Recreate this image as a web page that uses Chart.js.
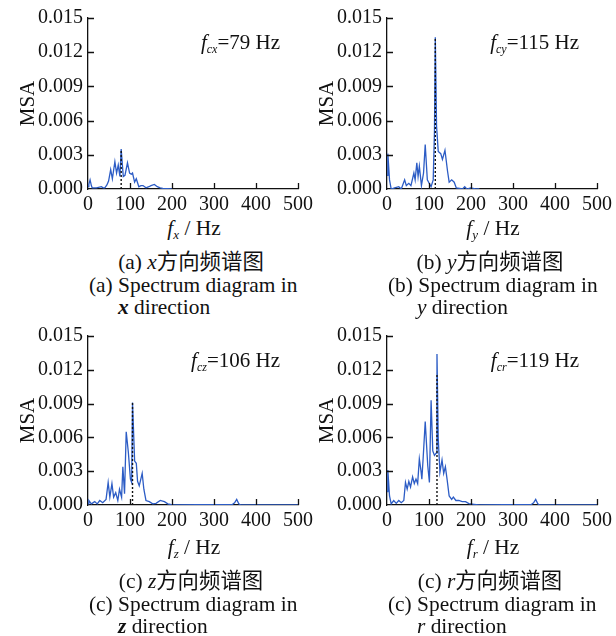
<!DOCTYPE html>
<html>
<head>
<meta charset="utf-8">
<script src="https://cdn.jsdelivr.net/npm/chart.js@4.4.1/dist/chart.umd.min.js"></script>
<style>
  body { margin: 0; background: #fff; }
  #page { position: relative; width: 616px; height: 636px; overflow: hidden; font-family: "Liberation Serif", "Noto Sans CJK SC", serif; color: #111; }
  .panel { position: absolute; }
  .txt { position: absolute; white-space: nowrap; font-size: 21.4px; line-height: 22px; }
  .center { transform: translateX(-50%); }
  .txt sub { font-size: 13px; vertical-align: -4px; line-height: 0; }
</style>
</head>
<body>
<div id="page"></div>
<script>
// tick labels
const freqTicks = [0, 100, 200, 300, 400, 500];
const msaTicks = [0, 0.003, 0.006, 0.009, 0.012, 0.015];

// x direction
const freqX = [0, 2, 5, 8, 10, 20, 32, 36, 40, 45, 49, 54, 58, 64, 68, 72, 76, 79, 84, 88, 94, 99, 103, 106, 111, 115, 121, 126, 131, 138, 145, 150, 158, 165, 172, 178, 190, 200];
const msaX = [0.0002, 0.0004, 0.0008, 0.0003, 0.0001, 0.0001, 0.0002, 0.0001, 0.0001, 0.00035, 0.0007, 0.0017, 0.0009, 0.0024, 0.0014, 0.0021, 0.0011, 0.0035, 0.0011, 0.0012, 0.0023, 0.0014, 0.0013, 0.0014, 0.0006, 0.0009, 0.0002, 0.0003, 0.0003, 0.0001, 0.0002, 0.0003, 0.0004, 0.0002, 0.0001, 0.00005, 0.00003, 0];

// y direction
const freqY = [0, 2, 6, 10, 18, 28, 34, 42, 46, 52, 57, 64, 67, 71, 74, 77, 82, 87, 91, 96, 105, 110, 113, 115, 118, 122, 128, 132, 138, 144, 148, 154, 160, 165, 180, 185, 190, 199, 211, 220];
const msaY = [0.0012, 0.0031, 0.0008, 0, 0.0001, 0.0002, 0, 0.0008, 0.0003, 0.0005, 0.0003, 0.0014, 0.0008, 0.0023, 0.0011, 0.002, 0.0003, 0.0014, 0.0039, 0.0008, 0.0002, 0.0008, 0.005, 0.0133, 0.0055, 0.0033, 0.0031, 0.0026, 0.0034, 0.0016, 0.0006, 0.0008, 0.0006, 0.0001, 0, 0.0002, 0, 0.0001, 0, 0];

// z direction
const freqZ = [0, 2, 8, 16, 22, 28, 35, 43, 48, 52, 57, 61, 66, 71, 75, 80, 83, 87, 91, 96, 101, 104, 106, 111, 115, 118, 122, 129, 133, 138, 146, 154, 162, 172, 182, 190, 201, 260, 343, 349, 354, 359, 364, 420, 500];
const msaZ = [0.0001, 0.0004, 0.0001, 0.0003, 0.0001, 0.0004, 0.0002, 0.0005, 0.002, 0.0007, 0.0019, 0.0007, 0.0011, 0.0004, 0.0014, 0.0007, 0.0034, 0.001, 0.0065, 0.0047, 0.0023, 0.002, 0.0091, 0.0039, 0.0037, 0.0021, 0.0017, 0.0028, 0.0014, 0.0004, 0.0003, 0.0001, 0.00015, 0.0004, 0.0003, 0.0001, 0, 0.00003, 0.00003, 0.0002, 0.0005, 0.0001, 0, 0, 0];

// r direction
const freqR = [0, 2, 6, 10, 16, 22, 28, 34, 40, 44, 48, 52, 56, 61, 65, 69, 73, 77, 81, 83, 86, 91, 97, 101, 105, 109, 113, 117, 119, 122, 126, 131, 135, 139, 143, 148, 154, 158, 164, 171, 179, 187, 195, 207, 219, 280, 343, 349, 354, 359, 364, 420, 500];
const msaR = [0.0012, 0.0031, 0.0008, 0.0001, 0.0004, 0.00015, 0.0004, 0.0002, 0.0004, 0.002, 0.0014, 0.0021, 0.0016, 0.0025, 0.0019, 0.0023, 0.0019, 0.0041, 0.003, 0.0023, 0.0041, 0.0074, 0.0035, 0.002, 0.0093, 0.0048, 0.0044, 0.0046, 0.0134, 0.0059, 0.0029, 0.004, 0.0028, 0.0034, 0.0023, 0.0008, 0.0005, 0.0007, 0.0004, 0.0004, 0.0003, 0.0003, 0.00012, 0.00006, 0, 0.00003, 0.00003, 0.0002, 0.0005, 0.0001, 0, 0, 0];

// characteristic frequency and height of the dotted marker
const peakFreq = [79, 115, 106, 119];
const peakTop = [0.0034, 0.0132, 0.0091, 0.0117];
const subLetters = ["cx", "cy", "cz", "cr"];
const axisLetters = ["x", "y", "z", "r"];
const captionTags = ["(a)", "(b)", "(c)", "(c)"];

const allFreq = [freqX, freqY, freqZ, freqR];
const allMsa = [msaX, msaY, msaZ, msaR];

const LINE_BLUE = "#2c5cc5";
const FONT = "'Liberation Serif', serif";

// ticks drawn inside the plot, like the original figure
const inwardTicks = {
  id: "inwardTicks",
  afterDraw(chart) {
    const { ctx, chartArea, scales } = chart;
    ctx.save();
    ctx.strokeStyle = "#111";
    ctx.lineWidth = 1.3;
    ctx.beginPath();
    scales.x.ticks.forEach((t) => {
      if (t.value === 0) return;
      const px = Math.round(scales.x.getPixelForValue(t.value)) + 0.5;
      ctx.moveTo(px, chartArea.bottom);
      ctx.lineTo(px, chartArea.bottom - 6);
    });
    scales.y.ticks.forEach((t) => {
      if (t.value === 0) return;
      const py = Math.round(scales.y.getPixelForValue(t.value)) + 0.5;
      ctx.moveTo(chartArea.left, py);
      ctx.lineTo(chartArea.left + 6, py);
    });
    ctx.stroke();
    ctx.restore();
  },
};

// f_c label in the upper right corner
const peakLabel = {
  id: "peakLabel",
  afterDraw(chart, args, opts) {
    const { ctx, chartArea } = chart;
    const rest = "=" + opts.value + " Hz";
    ctx.save();
    ctx.fillStyle = "#111";
    ctx.textBaseline = "alphabetic";
    ctx.font = "21px " + FONT;
    const wRest = ctx.measureText(rest).width;
    ctx.font = "italic 12px " + FONT;
    const wSub = ctx.measureText(opts.sub).width;
    ctx.font = "italic 21px " + FONT;
    const wF = ctx.measureText("f").width;
    const right = chartArea.right - 18;
    const base = chartArea.top + 31;
    let x = right - wRest - wSub - wF;
    ctx.fillText("f", x, base);
    x += wF;
    ctx.font = "italic 12px " + FONT;
    ctx.fillText(opts.sub, x, base + 4);
    x += wSub;
    ctx.font = "21px " + FONT;
    ctx.fillText(rest, x, base);
    ctx.restore();
  },
};

const page = document.getElementById("page");

function addText(html, left, centerY, centered) {
  const d = document.createElement("div");
  d.className = "txt" + (centered ? " center" : "");
  d.style.left = left + "px";
  d.style.top = centerY - 11 + "px";
  d.innerHTML = html;
  page.appendChild(d);
}

function buildPanel(i) {
  const col = i % 2;
  const row = Math.floor(i / 2);
  const left = col * 299;
  const top = row * 318;

  const wrap = document.createElement("div");
  wrap.className = "panel";
  wrap.style.left = left + "px";
  wrap.style.top = top + "px";
  const canvas = document.createElement("canvas");
  canvas.width = 317;
  canvas.height = 215;
  wrap.appendChild(canvas);
  page.appendChild(wrap);

  const freq = allFreq[i];
  const msa = allMsa[i];

  new Chart(canvas.getContext("2d"), {
    type: "line",
    data: {
      datasets: [
        {
          data: [
            { x: peakFreq[i], y: 0 },
            { x: peakFreq[i], y: peakTop[i] },
          ],
          borderColor: "#111",
          borderWidth: 1.4,
          borderDash: [2, 2],
          pointRadius: 0,
          order: 0,
        },
        {
          data: freq.map((f, k) => ({ x: f, y: msa[k] })),
          borderColor: LINE_BLUE,
          borderWidth: 1.3,
          pointRadius: 0,
          tension: 0,
          order: 1,
        },
      ],
    },
    options: {
      responsive: false,
      animation: false,
      devicePixelRatio: 1,
      layout: { padding: { top: 18, right: 17, left: 16, bottom: 0 } },
      plugins: {
        legend: { display: false },
        tooltip: { enabled: false },
        peakLabel: { value: peakFreq[i], sub: subLetters[i] },
      },
      scales: {
        x: {
          type: "linear",
          min: 0,
          max: 500,
          afterBuildTicks: (s) => { s.ticks = freqTicks.map((v) => ({ value: v })); },
          afterFit: (s) => { s.height = row === 0 ? 26 : 28; },
          grid: { display: false, drawTicks: false },
          border: { display: true, color: "#111", width: 1.3 },
          ticks: { color: "#111", padding: 4, maxRotation: 0, font: { family: FONT, size: 20 } },
        },
        y: {
          type: "linear",
          min: 0,
          max: 0.015,
          afterBuildTicks: (s) => { s.ticks = msaTicks.map((v) => ({ value: v })); },
          afterFit: (s) => { s.width = 72; },
          grid: { display: false, drawTicks: false },
          border: { display: true, color: "#111", width: 1.3 },
          ticks: {
            color: "#111",
            padding: 5,
            font: { family: FONT, size: 20 },
            callback: (v) => v.toFixed(3),
          },
          title: {
            display: true,
            text: "MSA",
            color: "#111",
            padding: 0,
            font: { family: FONT, size: 21 },
          },
        },
      },
    },
    plugins: [inwardTicks, peakLabel],
  });

  const a = axisLetters[i];
  const tag = captionTags[i];
  const rowOff = row === 0 ? 0 : 319;
  addText("<i>f</i><sub><i>" + a + "</i></sub> / Hz", left + 194, 228 + rowOff, true);
  addText(tag + " <i>" + a + "</i>方向频谱图", left + 191, 262 + rowOff, true);
  addText(tag + " Spectrum diagram in", left + 89, 285 + rowOff, false);
  const dirWord = i === 0 || i === 2 ? "<b><i>" + a + "</i></b>" : "<i>" + a + "</i>";
  addText(dirWord + " direction", left + 118, 307 + rowOff, false);
}

[0, 1, 2, 3].forEach(buildPanel);
</script>
</body>
</html>
